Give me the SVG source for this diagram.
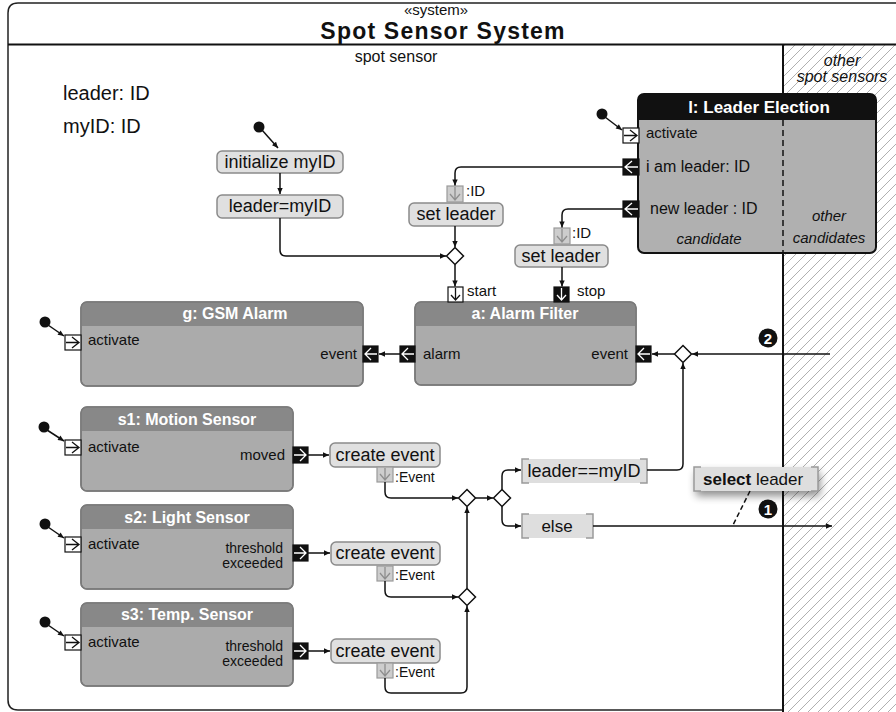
<svg xmlns="http://www.w3.org/2000/svg" width="896" height="712" viewBox="0 0 896 712">
<style>
text{font-family:"Liberation Sans",Arial,sans-serif;fill:#111}
.ti{font-weight:bold;fill:#fff;font-size:16px;text-anchor:middle}
.act{fill:#e0e0e0;stroke:#8a8a8a;stroke-width:1.5}
.at{font-size:18px;text-anchor:middle}
.pl{font-size:15px}
.th{font-size:14px;text-anchor:end}
.r{text-anchor:end}
.ln{fill:none;stroke:#111;stroke-width:1.5}
.ar{marker-end:url(#ah)}
.blk{fill:#ababab;stroke:#7a7a7a;stroke-width:1.5}
.hdr{fill:#888}
.wp{fill:#fff;stroke:#111;stroke-width:1.2}
.bp{fill:#111;stroke:#111;stroke-width:1.2}
.gp{fill:#cdcdcd;stroke:#9a9a9a;stroke-width:1.2}
.wa{fill:none;stroke:#fff;stroke-width:1.3}
.ka{fill:none;stroke:#111;stroke-width:1.3}
.ga{fill:none;stroke:#8e8e8e;stroke-width:1.3}
.dm{fill:#fff;stroke:#111;stroke-width:1.5}
.gd{fill:#dedede}
.br{fill:none;stroke:#9a9a9a;stroke-width:1.5}
.it{font-style:italic;font-size:15px;text-anchor:middle}
.num{font-size:15px;font-weight:bold;text-anchor:middle;fill:#fff}
</style>
<defs>
<marker id="ah" viewBox="0 0 10 10" refX="10" refY="5" markerWidth="7" markerHeight="6" orient="auto" markerUnits="userSpaceOnUse"><path d="M0,0.5 L10,5 L0,9.5 z" fill="#111"/></marker>
<pattern id="hatch" width="10" height="10" patternUnits="userSpaceOnUse"><path d="M-1,1 L1,-1 M0,10 L10,0 M9,11 L11,9" stroke="#b0b0b0" stroke-width="1"/></pattern>
<filter id="sh" x="-30%" y="-60%" width="160%" height="240%"><feGaussianBlur in="SourceAlpha" stdDeviation="4"/><feOffset dx="2" dy="5" result="b"/><feComponentTransfer><feFuncA type="linear" slope="0.45"/></feComponentTransfer><feMerge><feMergeNode/><feMergeNode in="SourceGraphic"/></feMerge></filter>
</defs>

<!-- frame -->
<g id="frame">
<rect x="783" y="45" width="113" height="667" fill="url(#hatch)"/>
<path d="M896,3 L18,3 Q8,3 8,13 L8,700 Q8,710 18,710 L783,710" fill="none" stroke="#222" stroke-width="1.5"/>
<line x1="8" y1="44.5" x2="896" y2="44.5" stroke="#111" stroke-width="2"/>
<line x1="783" y1="45" x2="783" y2="712" stroke="#111" stroke-width="2"/>
<text x="436" y="15" font-size="15" text-anchor="middle">«system»</text>
<text x="443" y="39" font-size="23" font-weight="bold" text-anchor="middle" letter-spacing="1.2">Spot Sensor System</text>
<text x="396" y="62" font-size="16" text-anchor="middle">spot sensor</text>
<text x="842" y="66" class="it" style="font-size:16px">other</text>
<text x="842" y="82" class="it" style="font-size:16px">spot sensors</text>
<text x="63" y="100" font-size="20">leader: ID</text>
<text x="63" y="133" font-size="20">myID: ID</text>
</g>

<!-- Leader Election -->
<g id="leader-election">
<rect x="638" y="94" width="238" height="159" rx="6" fill="#b0b0b0" stroke="#111" stroke-width="2"/>
<path d="M638,120 L638,100 Q638,94 644,94 L870,94 Q876,94 876,100 L876,120 Z" fill="#111"/>
<line x1="783" y1="120" x2="783" y2="253" stroke="#111" stroke-width="1.5" stroke-dasharray="6,4"/>
<text x="759" y="113" class="ti" style="font-size:17px">l: Leader Election</text>
<text x="646" y="138" class="pl">activate</text>
<text x="646" y="172" font-size="16">i am leader: ID</text>
<text x="650" y="214" font-size="16">new leader : ID</text>
<text x="709" y="244" class="it">candidate</text>
<text x="829" y="221" class="it">other</text>
<text x="829" y="243" class="it">candidates</text>
<rect x="623" y="128" width="16" height="15" class="wp"/><path d="M624,135.5 H637 M630,130 L637,135.5 L630,141" class="ka"/>
<rect x="623" y="159" width="16" height="16" class="bp"/><path d="M625,167 H638 M632,161 L625,167 L632,173" class="wa"/>
<rect x="623" y="201" width="16" height="16" class="bp"/><path d="M625,209 H638 M632,203 L625,209 L632,215" class="wa"/>
</g>

<!-- actions -->
<g id="init-myid"><rect x="217" y="151" width="126" height="22" rx="5" class="act"/><text x="280" y="168" class="at">initialize myID</text></g>
<g id="leader-eq-myid"><rect x="217" y="195" width="126" height="23" rx="5" class="act"/><text x="280" y="212" class="at">leader=myID</text></g>
<g id="set-leader-1"><rect x="409" y="203" width="94" height="23" rx="5" class="act"/><text x="456" y="220" class="at">set leader</text>
<rect x="447" y="186" width="16" height="16" class="gp"/><path d="M455,187 V200 M450,194 L455,200 L460,194" class="ga"/><text x="466" y="196" class="pl">:ID</text></g>
<g id="set-leader-2"><rect x="515" y="245" width="93" height="22" rx="5" class="act"/><text x="561" y="262" class="at">set leader</text>
<rect x="554" y="228" width="16" height="16" class="gp"/><path d="M562,229 V242 M557,236 L562,242 L567,236" class="ga"/><text x="572" y="238" class="pl">:ID</text></g>

<!-- GSM -->
<g id="gsm-alarm">
<rect x="81" y="302" width="282" height="84" rx="6" class="blk"/>
<path d="M81,326 L81,308 Q81,302 87,302 L357,302 Q363,302 363,308 L363,326 Z" class="hdr"/>
<rect x="81" y="302" width="282" height="84" rx="6" fill="none" stroke="#7a7a7a" stroke-width="1.5"/>
<text x="235" y="319" class="ti">g: GSM Alarm</text>
<text x="88" y="345" class="pl">activate</text>
<text x="357" y="359" class="pl r">event</text>
<rect x="65" y="335" width="16" height="15" class="wp"/><path d="M66,342.5 H79 M72,337 L79,342.5 L72,348" class="ka"/>
<rect x="363" y="346" width="15" height="16" class="bp"/><path d="M365,354 H377 M371,348 L365,354 L371,360" class="wa"/>
</g>

<!-- Alarm Filter -->
<g id="alarm-filter">
<rect x="415" y="302" width="221" height="83" rx="6" class="blk"/>
<path d="M415,326 L415,308 Q415,302 421,302 L630,302 Q636,302 636,308 L636,326 Z" class="hdr"/>
<rect x="415" y="302" width="221" height="83" rx="6" fill="none" stroke="#7a7a7a" stroke-width="1.5"/>
<text x="525" y="319" class="ti">a: Alarm Filter</text>
<text x="423" y="359" class="pl">alarm</text>
<text x="628" y="359" class="pl r">event</text>
<text x="467" y="296" class="pl">start</text>
<text x="577" y="296" class="pl">stop</text>
<rect x="400" y="346" width="15" height="16" class="bp"/><path d="M402,354 H414 M408,348 L402,354 L408,360" class="wa"/>
<rect x="636" y="346" width="15" height="16" class="bp"/><path d="M638,354 H650 M644,348 L638,354 L644,360" class="wa"/>
<rect x="448" y="287" width="15" height="15" class="wp"/><path d="M455.5,288 V300 M451,295 L455.5,300 L460,295" class="ka"/>
<rect x="554" y="287" width="15" height="15" class="bp"/><path d="M561.5,288 V300 M557,295 L561.5,300 L566,295" class="wa"/>
</g>

<!-- sensors -->
<g id="s1-motion">
<rect x="81" y="407" width="212" height="84" rx="6" class="blk"/>
<path d="M81,431 L81,413 Q81,407 87,407 L287,407 Q293,407 293,413 L293,431 Z" class="hdr"/>
<rect x="81" y="407" width="212" height="84" rx="6" fill="none" stroke="#7a7a7a" stroke-width="1.5"/>
<text x="187" y="425" class="ti">s1: Motion Sensor</text>
<text x="88" y="452" class="pl">activate</text>
<text x="285" y="460" class="pl r">moved</text>
<rect x="65" y="440" width="16" height="15" class="wp"/><path d="M66,447.5 H79 M72,442 L79,447.5 L72,453" class="ka"/>
<rect x="293" y="447" width="15" height="16" class="bp"/><path d="M294,455 H306 M300,449 L306,455 L300,461" class="wa"/>
</g>
<g id="s2-light">
<rect x="81" y="505" width="212" height="84" rx="6" class="blk"/>
<path d="M81,529 L81,511 Q81,505 87,505 L287,505 Q293,505 293,511 L293,529 Z" class="hdr"/>
<rect x="81" y="505" width="212" height="84" rx="6" fill="none" stroke="#7a7a7a" stroke-width="1.5"/>
<text x="187" y="523" class="ti">s2: Light Sensor</text>
<text x="88" y="549" class="pl">activate</text>
<text x="283" y="553" class="th">threshold</text>
<text x="283" y="568" class="th">exceeded</text>
<rect x="65" y="537" width="16" height="15" class="wp"/><path d="M66,544.5 H79 M72,539 L79,544.5 L72,550" class="ka"/>
<rect x="293" y="545" width="15" height="16" class="bp"/><path d="M294,553 H306 M300,547 L306,553 L300,559" class="wa"/>
</g>
<g id="s3-temp">
<rect x="81" y="603" width="212" height="83" rx="6" class="blk"/>
<path d="M81,627 L81,609 Q81,603 87,603 L287,603 Q293,603 293,609 L293,627 Z" class="hdr"/>
<rect x="81" y="603" width="212" height="83" rx="6" fill="none" stroke="#7a7a7a" stroke-width="1.5"/>
<text x="187" y="620" class="ti">s3: Temp. Sensor</text>
<text x="88" y="647" class="pl">activate</text>
<text x="283" y="651" class="th">threshold</text>
<text x="283" y="666" class="th">exceeded</text>
<rect x="65" y="635" width="16" height="15" class="wp"/><path d="M66,642.5 H79 M72,637 L79,642.5 L72,648" class="ka"/>
<rect x="293" y="643" width="15" height="16" class="bp"/><path d="M294,651 H306 M300,645 L306,651 L300,657" class="wa"/>
</g>

<!-- create event actions -->
<g id="create-event-1"><rect x="330" y="443" width="110" height="24" rx="5" class="act"/><text x="385" y="461" class="at">create event</text>
<rect x="377" y="467" width="16" height="15" class="gp"/><path d="M385,468 V480 M380,474 L385,480 L390,474" class="ga"/><text x="395" y="482" class="pl" style="font-size:14px">:Event</text></g>
<g id="create-event-2"><rect x="331" y="542" width="109" height="23" rx="5" class="act"/><text x="385" y="559" class="at">create event</text>
<rect x="377" y="566" width="16" height="15" class="gp"/><path d="M385,567 V579 M380,573 L385,579 L390,573" class="ga"/><text x="395" y="580" class="pl" style="font-size:14px">:Event</text></g>
<g id="create-event-3"><rect x="331" y="639" width="109" height="24" rx="5" class="act"/><text x="385" y="657" class="at">create event</text>
<rect x="377" y="663" width="16" height="15" class="gp"/><path d="M385,664 V676 M380,670 L385,676 L390,670" class="ga"/><text x="395" y="677" class="pl" style="font-size:14px">:Event</text></g>

<!-- guards -->
<g id="guard-leader"><rect x="522" y="459" width="125" height="24" class="gd"/><path d="M529,459 H522 V483 H529 M640,459 H647 V483 H640" class="br"/><text x="584" y="477" class="at">leader==myID</text></g>
<g id="guard-else"><rect x="522" y="514" width="71" height="24" class="gd"/><path d="M529,514 H522 V538 H529 M586,514 H593 V538 H586" class="br"/><text x="557" y="532" class="at" style="font-size:17px">else</text></g>
<g id="note-select"><rect x="694" y="467" width="124" height="24" class="gd" filter="url(#sh)"/><path d="M701,467 H694 V491 H701 M811,467 H818 V491 H811" class="br"/><text x="703" y="485" font-size="17"><tspan font-weight="bold">select</tspan> leader</text></g>

<!-- decision nodes -->
<g id="decisions">
<polygon points="455,247.5 463.5,256 455,264.5 446.5,256" class="dm"/>
<polygon points="683,345.5 691.5,354 683,362.5 674.5,354" class="dm"/>
<polygon points="467,489.5 475.5,498 467,506.5 458.5,498" class="dm"/>
<polygon points="502,489.5 510.5,498 502,506.5 493.5,498" class="dm"/>
<polygon points="467,588.5 475.5,597 467,605.5 458.5,597" class="dm"/>
</g>

<!-- initial nodes -->
<g id="initials" fill="#111">
<circle cx="602" cy="114" r="5.5"/>
<circle cx="259" cy="127" r="5.5"/>
<circle cx="45" cy="322" r="5.5"/>
<circle cx="44" cy="427" r="5.5"/>
<circle cx="45" cy="524" r="5.5"/>
<circle cx="45" cy="622" r="5.5"/>
</g>

<!-- markers 1 and 2 -->
<g id="num-1"><circle cx="768" cy="509" r="9.5" fill="#111"/><text x="768" y="514.5" class="num">1</text></g>
<g id="num-2"><circle cx="768" cy="338" r="9.5" fill="#111"/><text x="768" y="343.5" class="num">2</text></g>

<!-- connectors -->
<g id="connectors" class="ln">
<path class="ar" d="M605,117 L622,130"/>
<path class="ar" d="M262,130 L278,148"/>
<path class="ar" d="M48,325 L64,336"/>
<path class="ar" d="M47,430 L64,441"/>
<path class="ar" d="M48,527 L64,538"/>
<path class="ar" d="M48,625 L64,636"/>
<path class="ar" d="M280,173 L280,194"/>
<path class="ar" d="M280,218 L280,250 Q280,256 286,256 L446,256"/>
<path class="ar" d="M623,167 L461,167 Q455,167 455,173 L455,185.5"/>
<path class="ar" d="M455,226 L455,247"/>
<path class="ar" d="M455,264.5 L455,286.5"/>
<path class="ar" d="M623,209 L568,209 Q562,209 562,215 L562,227.5"/>
<path class="ar" d="M562,267 L562,286.5"/>
<path class="ar" d="M400,354 L379,354"/>
<path class="ar" d="M674.5,354 L652,354"/>
<path class="ar" d="M830,354 L692,354"/>
<path class="ar" d="M647,470 L677,470 Q683,470 683,464 L683,363"/>
<path class="ar" d="M308,455 L329,455"/>
<path class="ar" d="M308,553 L330,553"/>
<path class="ar" d="M308,651 L330,651"/>
<path class="ar" d="M385,482 L385,492 Q385,498 391,498 L458,498"/>
<path class="ar" d="M385,581 L385,591 Q385,597 391,597 L458,597"/>
<path class="ar" d="M385,678 L385,687 Q385,693 391,693 L461,693 Q467,693 467,687 L467,606"/>
<path class="ar" d="M467,588.5 L467,507"/>
<path class="ar" d="M475.5,498 L493,498"/>
<path class="ar" d="M502,489.5 L502,476 Q502,470 508,470 L521,470"/>
<path class="ar" d="M502,506.5 L502,520 Q502,526 508,526 L521,526"/>
<path class="ar" d="M593,526 L832,526"/>
<path d="M750,491 L733,525" stroke-dasharray="5,3"/>
</g>
</svg>
